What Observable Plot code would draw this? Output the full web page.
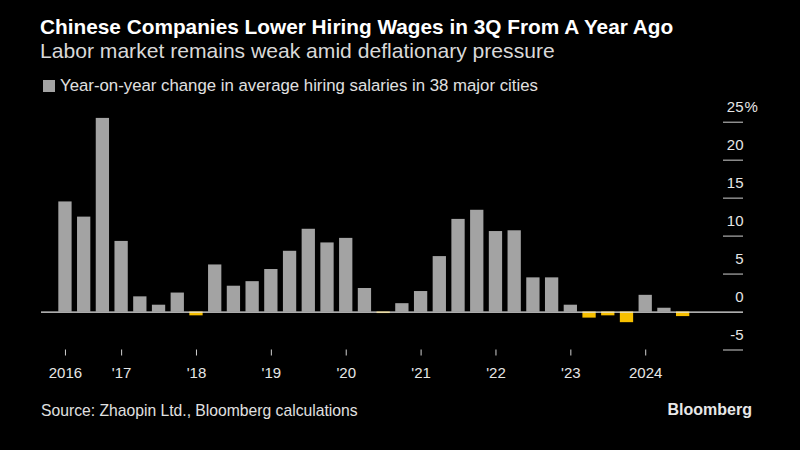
<!DOCTYPE html>
<html>
<head>
<meta charset="utf-8">
<script src="https://cdn.jsdelivr.net/npm/d3@7"></script>
<script src="https://cdn.jsdelivr.net/npm/@observablehq/plot@0.6"></script>
<style>
  html, body { margin: 0; padding: 0; background: #000; }
  body { width: 800px; height: 450px; overflow: hidden; position: relative;
         font-family: "Liberation Sans", Arial, sans-serif; color: #fff; }
  .t { position: absolute; white-space: nowrap; line-height: 1; }
  #title { left: 40px; top: 17px; font-size: 20.8px; font-weight: bold; color: #fff; }
  #subtitle { left: 40px; top: 40px; font-size: 21.1px; color: #d9d9d9; }
  #legend { left: 43px; top: 78px; font-size: 16.8px; color: #e0e0e0; }
  #legend .sw { display: inline-block; width: 12px; height: 12px; background: #a3a3a3; vertical-align: -1px; margin-right: 5px; }
  #chart { position: absolute; left: 0; top: 100px; }
  #source { left: 41px; top: 403px; font-size: 15.7px; color: #e0e0e0; }
  #brand { right: 48px; top: 402px; font-size: 16px; font-weight: bold; color: #e8e8e8; }
</style>
</head>
<body>
<div id="title" class="t">Chinese Companies Lower Hiring Wages in 3Q From A Year Ago</div>
<div id="subtitle" class="t">Labor market remains weak amid deflationary pressure</div>
<div id="legend" class="t"><span class="sw"></span>Year-on-year change in average hiring salaries in 38 major cities</div>
<div id="chart"></div>
<div id="source" class="t">Source: Zhaopin Ltd., Bloomberg calculations</div>
<div id="brand" class="t">Bloomberg</div>
<script>
const quarters = [
  "2016Q2","2016Q3","2016Q4",
  "2017Q1","2017Q2","2017Q3","2017Q4",
  "2018Q1","2018Q2","2018Q3","2018Q4",
  "2019Q1","2019Q2","2019Q3","2019Q4",
  "2020Q1","2020Q2","2020Q3","2020Q4",
  "2021Q1","2021Q2","2021Q3","2021Q4",
  "2022Q1","2022Q2","2022Q3","2022Q4",
  "2023Q1","2023Q2","2023Q3","2023Q4",
  "2024Q1","2024Q2","2024Q3"
];
const values = [
  14.5, 12.5, 25.5,
  9.3, 2.0, 0.9, 2.5,
  -0.5, 6.2, 3.4, 4.0,
  5.6, 8.0, 10.9, 9.1,
  9.7, 3.1, -0.2, 1.1,
  2.7, 7.3, 12.2, 13.4,
  10.6, 10.7, 4.5, 4.5,
  0.9, -0.8, -0.5, -1.4,
  2.2, 0.5, -0.6
];
const xTickCats = ["2016Q2","2017Q1","2018Q1","2019Q1","2020Q1","2021Q1","2022Q1","2023Q1","2024Q1"];
const xTickLabels = ["2016","'17","'18","'19","'20","'21","'22","'23","2024"];
const yTicks = [-5, 0, 5, 10, 15, 20, 25];

const gray = "#a3a3a3";
const yellow = "#f7c000";

const data = quarters.map((q, i) => ({q, v: values[i]}));
const xLabelMap = new Map(xTickCats.map((c, i) => [c, xTickLabels[i]]));

const chart = Plot.plot({
  width: 800,
  height: 300,
  marginLeft: 41,
  marginRight: 57,
  marginTop: 20,
  marginBottom: 50.5,
  style: {background: "transparent", color: "#e6e6e6", fontFamily: "'Liberation Sans', Arial, sans-serif", fontSize: "15px", overflow: "visible"},
  x: {type: "band", domain: quarters, range: [55.6, 692], paddingInner: 0.29, paddingOuter: 0.145, round: false, label: null},
  y: {domain: [-5, 25], range: [249.5, 21.7], label: null},
  marks: [
    Plot.barY(data, {x: "q", y: "v", fill: d => d.v < 0 ? yellow : gray}),
    Plot.ruleY(yTicks.filter(t => t !== 0), {stroke: "#d0d0d0", strokeWidth: 1, insetLeft: 682}),
    Plot.ruleY([0], {stroke: "#e6e6e6", strokeWidth: 1.3}),
    Plot.axisY(yTicks, {anchor: "right", label: null, tickSize: 0, tickPadding: 0, textAnchor: "end", dy: -15,
      tickFormat: d => String(d), fontSize: 15, fill: "#e6e6e6"}),
    Plot.text([25], {y: d => d, frameAnchor: "right", text: () => "%", textAnchor: "start", dx: 1, dy: -15, fontSize: 15, fill: "#e6e6e6"}),
    Plot.axisX(xTickCats, {anchor: "bottom", label: null, tickSize: 6, tickPadding: 11.5, stroke: "#d0d0d0",
      tickFormat: d => xLabelMap.get(d), fontSize: 15, fill: "#e6e6e6"})
  ]
});
document.getElementById("chart").appendChild(chart);
</script>
</body>
</html>
